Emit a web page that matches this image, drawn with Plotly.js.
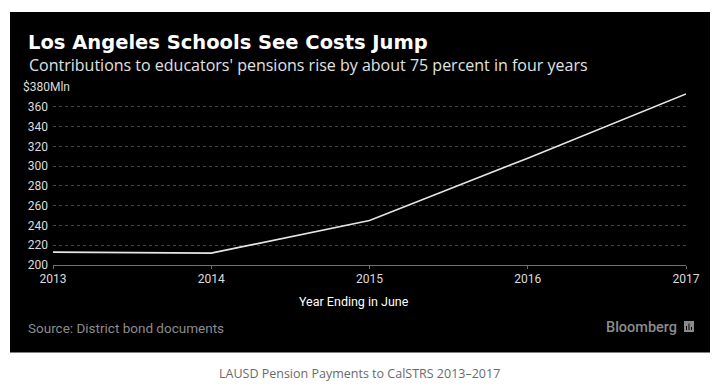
<!DOCTYPE html>
<html>
<head>
<meta charset="utf-8">
<script src="https://cdn.plot.ly/plotly-3.0.1.min.js"></script>
<style>
html,body{margin:0;padding:0;background:#fff;}
#chart{width:718px;height:387px;}
</style>
</head>
<body>
<div id="chart"></div>
<script>
// ---- data ----
const years = [2013, 2014, 2015, 2016, 2017];
const contributions = [213, 212, 245, 308, 373]; // $ millions
const yTickVals = [200, 220, 240, 260, 280, 300, 320, 340, 360, 380];
const yTickText = ["200", "220", "240", "260", "280", "300", "320", "340", "360", ""];
const xTickText = ["2013", "2014", "2015", "2016", "2017"];
const topTickLabel = "$380Mln";

const titleText = "Los Angeles Schools See Costs Jump";
const subtitleText = "Contributions to educators' pensions rise by about 75 percent in four years";
const xTitleText = "Year Ending in June";
const sourceText = "Source: District bond documents";
const brandText = "Bloomberg";
const captionText = "LAUSD Pension Payments to CalSTRS 2013\u20132017";

// ---- layout geometry ----
const W = 718, H = 387;
const M = {l: 53, r: 32, t: 87, b: 122};
const px2x = px => (px - M.l) / (W - M.l - M.r);
const py2y = py => (H - M.b - py) / (H - M.t - M.b);

const trace = {
  x: years,
  y: contributions,
  type: 'scatter',
  mode: 'lines',
  line: {color: '#e6e6e6', width: 1.6},
  hoverinfo: 'skip'
};

const layout = {
  width: W, height: H,
  margin: M,
  paper_bgcolor: '#ffffff',
  plot_bgcolor: '#000000',
  showlegend: false,
  title: {
    text: titleText,
    font: {family: 'DejaVu Sans', size: 19.5, color: '#ffffff', weight: 'bold'},
    x: 28 / W, xanchor: 'left', xref: 'container',
    y: 1 - 42 / H, yanchor: 'middle', yref: 'container'
  },
  xaxis: {
    range: [2013, 2017],
    tickvals: years,
    ticktext: xTickText,
    showgrid: false, zeroline: false,
    showline: true, linecolor: '#6e6e6e', linewidth: 1,
    ticks: 'outside', ticklen: 3, tickcolor: '#6e6e6e', tickwidth: 1,
    tickfont: {family: 'Roboto', size: 12, color: '#dcdcdc'},
    fixedrange: true
  },
  yaxis: {
    range: [200, 380],
    tickvals: yTickVals,
    ticktext: yTickText,
    showgrid: true, gridcolor: '#454545', griddash: 'dot', gridwidth: 1,
    zeroline: false, showline: false,
    ticks: '', ticklabelstandoff: 4,
    tickfont: {family: 'Roboto', size: 12, color: '#dcdcdc'},
    fixedrange: true
  },
  shapes: [
    {type: 'rect', xref: 'paper', yref: 'paper', layer: 'below',
     x0: px2x(10), x1: px2x(710), y0: py2y(352.5), y1: py2y(12),
     fillcolor: '#000000', line: {width: 0}},
    // Bloomberg logo mark
    {type: 'rect', xref: 'paper', yref: 'paper', layer: 'above',
     x0: px2x(684), x1: px2x(694), y0: py2y(332), y1: py2y(321),
     fillcolor: '#8a8a8a', line: {width: 0}},
    {type: 'line', xref: 'paper', yref: 'paper', layer: 'above',
     x0: px2x(686.5), x1: px2x(686.5), y0: py2y(330), y1: py2y(326),
     line: {color: '#000', width: 1}},
    {type: 'line', xref: 'paper', yref: 'paper', layer: 'above',
     x0: px2x(689), x1: px2x(689), y0: py2y(330), y1: py2y(323.5),
     line: {color: '#000', width: 1}},
    {type: 'line', xref: 'paper', yref: 'paper', layer: 'above',
     x0: px2x(691.5), x1: px2x(691.5), y0: py2y(330), y1: py2y(327),
     line: {color: '#000', width: 1}}
  ],
  annotations: [
    {text: subtitleText, xref: 'paper', yref: 'paper',
     x: px2x(27), xanchor: 'left', y: py2y(65), yanchor: 'middle',
     showarrow: false,
     font: {family: 'Open Sans', size: 16, color: '#e2e2e2'}},
    {text: topTickLabel, xref: 'paper', yref: 'y',
     x: px2x(20), xanchor: 'left', y: yTickVals[yTickVals.length - 1], yanchor: 'middle',
     showarrow: false, bgcolor: '#000000', borderpad: 2,
     font: {family: 'Roboto', size: 12, color: '#dcdcdc'}},
    {text: xTitleText, xref: 'paper', yref: 'paper',
     x: px2x(353.5), xanchor: 'center', y: py2y(301), yanchor: 'middle',
     showarrow: false,
     font: {family: 'Roboto', size: 12.5, color: '#ffffff'}},
    {text: sourceText, xref: 'paper', yref: 'paper',
     x: px2x(26), xanchor: 'left', y: py2y(328), yanchor: 'middle',
     showarrow: false,
     font: {family: 'Roboto', size: 13.5, color: '#8c8c8c'}},
    {text: brandText, xref: 'paper', yref: 'paper',
     x: px2x(679), xanchor: 'right', y: py2y(327), yanchor: 'middle',
     showarrow: false,
     font: {family: 'Roboto', size: 14.5, color: '#8c8c8c', weight: 500}},
    {text: captionText, xref: 'paper', yref: 'paper',
     x: px2x(359), xanchor: 'center', y: py2y(373), yanchor: 'middle',
     showarrow: false,
     font: {family: 'Open Sans', size: 12.5, color: '#6a6a6a'}}
  ]
};

Plotly.newPlot('chart', [trace], layout, {staticPlot: true, displayModeBar: false});
</script>
</body>
</html>
